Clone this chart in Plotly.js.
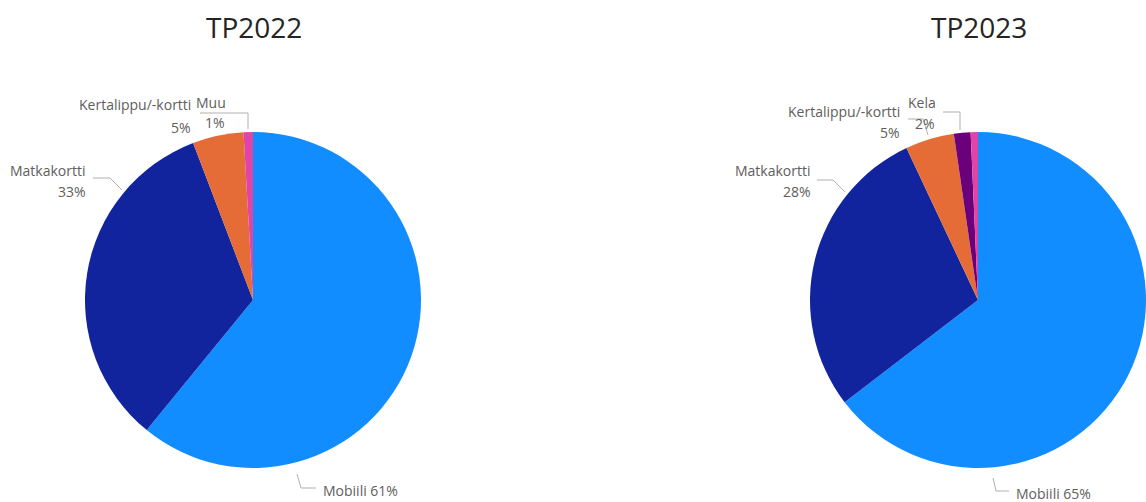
<!DOCTYPE html>
<html>
<head>
<meta charset="utf-8">
<script src="https://cdn.plot.ly/plotly-3.0.1.min.js"></script>
<style>html,body{margin:0;padding:0;background:#fff;}#chart{width:1146px;height:502px;}</style>
</head>
<body>
<div id="chart"></div>
<script>
// ---- data ----
const titles = ['TP2022', 'TP2023'];
const labels2022 = ['Mobiili', 'Matkakortti', 'Kertalippu/-kortti', 'Muu'];
const values2022 = [60.9, 33.3, 4.9, 0.9];
const labels2023 = ['Mobiili', 'Matkakortti', 'Kertalippu/-kortti', 'Kela', 'Muu'];
const values2023 = [64.6, 28.4, 4.7, 1.6, 0.7];

// ---- styles ----
const colorMap = {
  'Mobiili': '#118DFF',
  'Matkakortti': '#12239E',
  'Kertalippu/-kortti': '#E66C37',
  'Kela': '#6B007B',
  'Muu': '#E044A7'
};
const W = 1146, H = 502;
const px = x => x / W;
const py = y => 1 - y / H;
const R = 168;
const centers = [[253, 300], [978, 300]];

function domainFor(c) {
  return {
    x: [px(c[0] - R), Math.min(1, px(c[0] + R))],
    y: [py(c[1] + R), py(c[1] - R)]
  };
}

function pieTrace(labels, values, c) {
  return {
    type: 'pie',
    labels: labels,
    values: values,
    sort: false,
    direction: 'clockwise',
    rotation: 0,
    textinfo: 'none',
    hoverinfo: 'label+percent',
    marker: { colors: labels.map(l => colorMap[l]), line: { width: 0 } },
    domain: domainFor(c),
    showlegend: false
  };
}

const pct = (vals, i) => {
  const s = vals.reduce((a, b) => a + b, 0);
  return Math.round(vals[i] / s * 100) + '%';
};

// label placements (pixel coordinates)
const place2022 = [
  { i: 0, inline: true, name: [321, 490], line: [[297, 474], [301, 488], [316, 488]] },
  { i: 1, name: [88, 171], pct: [88, 191], line: [[93, 178], [110, 178], [122, 190]] },
  { i: 2, name: [193, 104], pct: [193, 127], line: null },
  { i: 3, name: [228, 102], pct: [227, 122], line: [[200, 113], [248, 113], [248, 129]] }
];
const place2023 = [
  { i: 0, inline: true, name: [1014, 493], line: [[993, 478], [996, 491], [1009, 491]] },
  { i: 1, name: [813, 171], pct: [813, 191], line: [[817, 180], [833, 180], [845, 192]] },
  { i: 2, name: [902, 111], pct: [902, 132], line: [[908, 119], [923, 119], [928, 135]] },
  { i: 3, name: [938, 102], pct: [937, 123], line: [[943, 112], [960, 112], [960, 130]] }
];

const labFont = { family: 'Open Sans, Segoe UI, sans-serif', size: 14, color: '#605E5C' };
const annotations = [];
const shapes = [];

function addLabels(labels, values, places) {
  places.forEach(p => {
    if (p.inline) {
      annotations.push({
        xref: 'paper', yref: 'paper', x: px(p.name[0]), y: py(p.name[1]),
        xanchor: 'left', yanchor: 'middle', showarrow: false,
        text: labels[p.i] + ' ' + pct(values, p.i), font: labFont
      });
    } else {
      annotations.push({
        xref: 'paper', yref: 'paper', x: px(p.name[0]), y: py(p.name[1]),
        xanchor: 'right', yanchor: 'middle', showarrow: false,
        text: labels[p.i], font: labFont
      });
      annotations.push({
        xref: 'paper', yref: 'paper', x: px(p.pct[0]), y: py(p.pct[1]),
        xanchor: 'right', yanchor: 'middle', showarrow: false,
        text: pct(values, p.i), font: labFont
      });
    }
    if (p.line) {
      const d = p.line.map((pt, k) => (k ? 'L' : 'M') + px(pt[0]) + ',' + py(pt[1])).join(' ');
      shapes.push({ type: 'path', xref: 'paper', yref: 'paper', path: d,
        line: { color: '#B3B0AD', width: 1 }, layer: 'below' });
    }
  });
}
addLabels(labels2022, values2022, place2022);
addLabels(labels2023, values2023, place2023);

// titles
[[254, 27], [979, 27]].forEach((c, k) => {
  annotations.push({
    xref: 'paper', yref: 'paper', x: px(c[0]), y: py(c[1]),
    xanchor: 'center', yanchor: 'middle', showarrow: false,
    text: titles[k],
    font: { family: 'Open Sans, Segoe UI, sans-serif', size: 28, color: '#252423', weight: 500 }
  });
});

const data = [
  pieTrace(labels2022, values2022, centers[0]),
  pieTrace(labels2023, values2023, centers[1])
];

const layout = {
  width: W, height: H,
  margin: { l: 0, r: 0, t: 0, b: 0 },
  paper_bgcolor: '#ffffff',
  plot_bgcolor: '#ffffff',
  annotations: annotations,
  shapes: shapes,
  showlegend: false
};

Plotly.newPlot('chart', data, layout, { displayModeBar: false, staticPlot: true });
</script>
</body>
</html>
